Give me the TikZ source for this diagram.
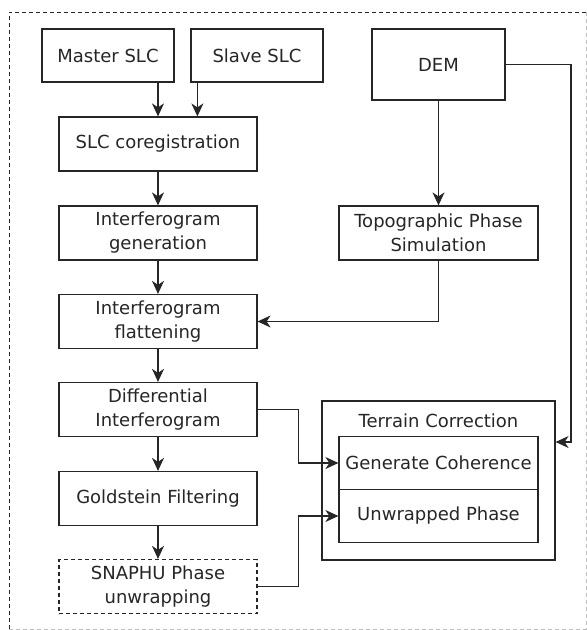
\documentclass[tikz,border=0pt]{standalone}
\usepackage{fontspec}
\setmainfont{DejaVu Sans}
\usetikzlibrary{arrows.meta}
\begin{document}
\begin{tikzpicture}[x=1pt, y=-1pt, line width=1.2pt, draw=black!85,
      >={Stealth[length=13pt, width=12pt, inset=4pt]},
      box/.style={draw, align=center, inner sep=0pt, text=black!85,
         font=\fontsize{18}{24}\selectfont}]
   \useasboundingbox (0, 0) rectangle (587, 630);
   % outer frame
   \draw[dash pattern=on 4pt off 3pt, line width=0.9pt] (9, 629) -- (9, 12) -- (586, 12);
   \draw[dash pattern=on 4pt off 3pt, gray!50, line width=0.8pt] (586, 12) -- (586, 629) -- (9, 629);
   \begin{scope}
      \def \Left {
         master/108/55.5/132/53/Master SLC,
         slave/257/55.5/132/53/Slave SLC,
         coreg/158/144/198/54/SLC coregistration,
         igen/158/233/198/54/Interferogram\\generation,
         iflat/158/321.5/198/54/Interferogram\\flattening,
         diff/158/409.5/198/54/Differential\\Interferogram,
         gold/158/498.5/198/54/Goldstein Filtering}
      \def \Right {
         dem/438.5/64.5/133/71/DEM,
         topo/438.5/233/199/54/Topographic Phase\\Simulation,
         terrain/438.5/480.5/233/159/{}}
      \foreach \n / \x / \y / \w / \h / \t in \Left {
         \node[box, minimum width=\w pt, minimum height=\h pt] (\n) at (\x, \y) {\t};
      }
      \foreach \n / \x / \y / \w / \h / \t in \Right {
         \node[box, minimum width=\w pt, minimum height=\h pt] (\n) at (\x, \y) {\t};
      }
      \node[box, dash pattern=on 4pt off 3pt, minimum width=198pt, minimum height=54pt] (snaphu) at (158, 586.5) {SNAPHU Phase\\unwrapping};
      \node[box, draw=none] (tctitle) at (438.5, 421) {Terrain Correction};
      \node[box, minimum width=199pt, minimum height=53pt] (coh) at (438.5, 463) {Generate Coherence};
      \node[box, minimum width=199pt, minimum height=53pt] (unw) at (438.5, 516) {Unwrapped Phase};
   \end{scope}
   \coordinate (demturn) at (571, 442);
   \draw[->] (master.south -| coreg.north) -- (coreg.north);
   \draw[->] ([xshift=7pt]slave.south west) -- ([xshift=7pt]slave.south west |- coreg.north);
   \draw[->] (coreg) -- (igen);
   \draw[->] (igen) -- (iflat);
   \draw[->] (iflat) -- (diff);
   \draw[->] (diff) -- (gold);
   \draw[->] (gold) -- (snaphu);
   \draw[->] (dem) -- (topo);
   \draw[->] (topo.south) |- (iflat.east);
   \draw[->] (dem.east) -| (demturn) -- (demturn -| terrain.east);
   \draw[->] (diff.east) -- ++(41, 0) |- (coh.west);
   \draw[->] (snaphu.east) -- ++(41, 0) |- (unw.west);
\end{tikzpicture}
\end{document}
